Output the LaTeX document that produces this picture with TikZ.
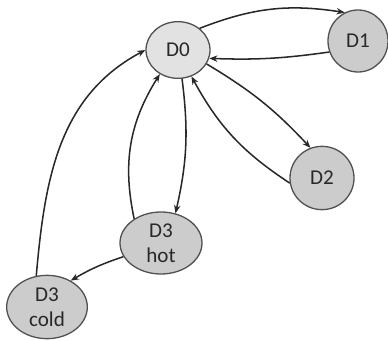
\documentclass[tikz,border=0pt]{standalone}
\usepackage{fontspec}
\setmainfont{Carlito}
\usetikzlibrary{arrows.meta,shapes.geometric}
\definecolor{HubFill}{RGB}{226,226,226}
\definecolor{StFill}{RGB}{204,204,204}
\definecolor{StDraw}{RGB}{80,80,80}
\definecolor{EdgeCol}{RGB}{40,40,40}
\definecolor{TxtCol}{RGB}{40,40,40}
\tikzset{
  every node/.style={align=center},
  %% base state
  st/.style={
    ellipse,
    draw=StDraw,
    line width=1.1pt,
    fill=StFill,
    inner sep=0pt,
    text=TxtCol,
    font=\fontsize{18}{21}\selectfont,
  },
  hubSt/.style={st, fill=HubFill},
  %% arrows
  arr/.style={
    -{Stealth[length=7pt,width=5.5pt]},
    line width=1.3pt,
    EdgeCol,
  },
}

\begin{document}
\begin{tikzpicture}[x=0.03cm,y=-0.03cm]
\useasboundingbox (0,0) rectangle (388,341);

%% ── States ─────────────────────────────────────────────────────────────────
\node[hubSt, minimum width=1.92cm, minimum height=1.7cm] (D0) at (178,50) {D0};
\node[st, minimum width=1.8cm, minimum height=1.86cm] (D1) at (358,41) {D1};
\node[st, minimum width=1.92cm, minimum height=1.9cm] (D2) at (322,178) {D2};
\node[st, minimum width=2.46cm, minimum height=1.86cm] (D3hot) at (161,243) {D3\\hot};
\node[st, minimum width=2.42cm, minimum height=1.9cm] (D3cold) at (47,307) {D3\\cold};

%% ── Transitions ────────────────────────────────────────────────────────────
\draw[arr] (D0.45)      to[bend left=15] (D1.115);
\draw[arr] (D1.201)     to[bend left=5]  (D0.345);
\draw[arr] (D0.334)     to[bend left=8]  (D2.111);
\draw[arr] (D2.189)     to[bend left=14] (D0.297);
\draw[arr] (D0.278)     to[bend left=10] (D3hot.64);
\draw[arr] (D3hot.138)  to[bend left=22] (D0.233);
\draw[arr] (D3hot.200)  to[bend right=6] (D3cold.48);
\draw[arr] (D3cold.109) to[out=85,in=208] (D0.180);

\end{tikzpicture}
\end{document}
